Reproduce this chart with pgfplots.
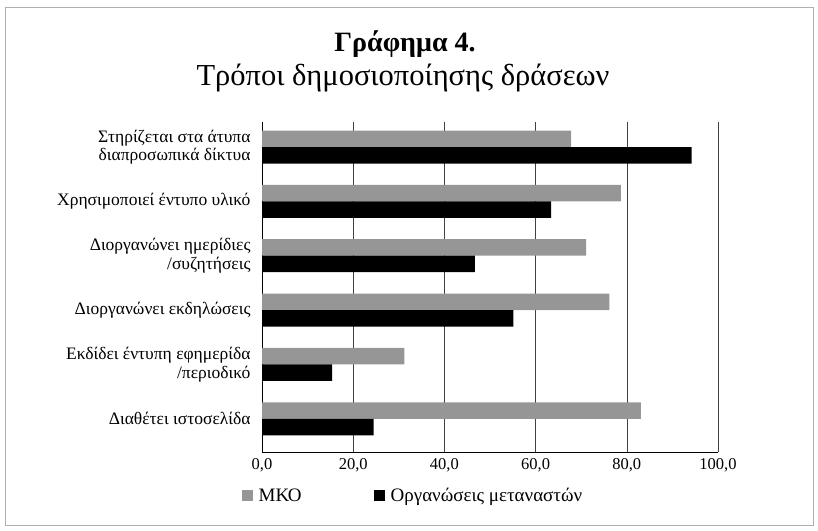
\documentclass[border=0pt]{standalone}
\usepackage{fontspec}
\setmainfont{Liberation Serif}
\usepackage{pgfplots}
\pgfplotsset{compat=1.18}
\definecolor{mkogray}{RGB}{150,150,150}
\definecolor{framegray}{RGB}{175,175,175}
\begin{document}
\begin{tikzpicture}[x=1pt,y=1pt]
\useasboundingbox (0,0) rectangle (818,530);
\draw[framegray, line width=1pt] (5,5) rectangle (813,522);
\node[font=\fontsize{28}{30}\selectfont\bfseries] at (405,486) {Γράφημα 4.};
\node[font=\fontsize{30.5}{32}\selectfont] at (403,452) {Τρόποι δημοσιοποίησης δράσεων};
\begin{axis}[
  at={(262pt,78pt)}, anchor=south west,
  scale only axis, width=456pt, height=330pt,
  xbar, bar width=16.5pt,
  xmin=0, xmax=100, ymin=-0.61, ymax=5.46,
  xtick={0,20,40,60,80,100},
  ytick={0,1,2,3,4,5},
  yticklabels={{Διαθέτει ιστοσελίδα},{Εκδίδει έντυπη εφημερίδα\\/περιοδικό},{Διοργανώνει εκδηλώσεις},{Διοργανώνει ημερίδιες\\/συζητήσεις},{Χρησιμοποιεί έντυπο υλικό},{Στηρίζεται στα άτυπα\\διαπροσωπικά δίκτυα}},
  yticklabel style={align=right, font=\fontsize{17.5}{18.5}\selectfont, xshift=-8pt},
  xticklabel style={font=\fontsize{16.5}{18}\selectfont, yshift=-3pt},
  /pgf/number format/assume math mode=true,
  xticklabel={\pgfmathprintnumber[fixed,fixed zerofill,precision=1,use comma]{\tick}},
  major tick length=0pt,
  axis x line*=bottom, axis y line*=left,
  axis line style={black, line width=0.7pt},
  xmajorgrids, grid style={black!75, line width=0.6pt},
  legend columns=2,
  legend style={at={(0.331,-0.133)}, anchor=center, draw=none, fill=none,
    font=\fontsize{19}{21}\selectfont,
    /tikz/every odd column/.append style={column sep=4pt},
    /tikz/every even column/.append style={column sep=70pt}},
  legend image code/.code={\draw[#1,draw=none] (0pt,-5.5pt) rectangle (11pt,5.5pt);},
]
\addplot[fill=mkogray, draw=none, bar shift=8.25pt] coordinates {
  (83.1,0) (31.2,1) (76.2,2) (71.1,3) (78.7,4) (67.8,5)};
\addplot[fill=black, draw=none, bar shift=-8.25pt] coordinates {
  (24.5,0) (15.4,1) (55.1,2) (46.7,3) (63.4,4) (94.2,5)};
\legend{ΜΚΟ, Οργανώσεις μεταναστών}
\end{axis}
\end{tikzpicture}
\end{document}
